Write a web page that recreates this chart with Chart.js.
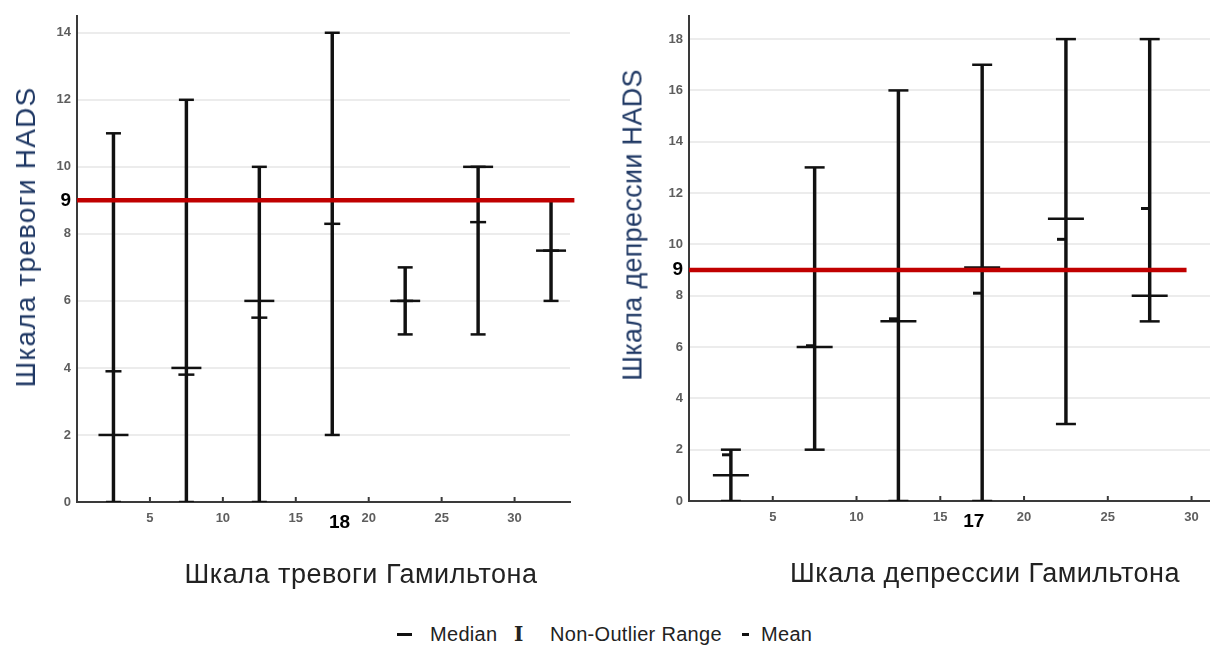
<!DOCTYPE html>
<html>
<head>
<meta charset="utf-8">
<script src="https://cdn.jsdelivr.net/npm/chart.js@4.4.1/dist/chart.umd.min.js"></script>
<style>
  body { margin: 0; background: #fff; width: 1210px; height: 646px; overflow: hidden; position: relative;
         font-family: 'Liberation Sans', Arial, sans-serif; }
  canvas { position: absolute; top: 0; }
  #anx { left: 0; }
  #dep { left: 605px; }
  .xt { position: absolute; font-size: 27px; letter-spacing: 0.5px; color: #222; white-space: nowrap; transform: translate(-50%, -50%); }
  .yt { position: absolute; color: #1f3864; white-space: nowrap; transform: translate(-50%, -50%) rotate(-90deg); }
  .lg { position: absolute; top: 634px; font-size: 20px; letter-spacing: 0.3px; color: #222; white-space: nowrap; transform: translateY(-50%); }
  .lg b { font-family: 'DejaVu Serif', serif; }
  .dash { position: absolute; top: 633px; height: 3px; background: #111; }
</style>
</head>
<body>
<canvas id="anx" width="605" height="610"></canvas>
<canvas id="dep" width="605" height="610"></canvas>
<div class="yt" style="left:26px; top:237px; font-size:28px; letter-spacing:1.2px;">Шкала тревоги HADS</div>
<div class="xt" style="left:361px; top:574px;">Шкала тревоги Гамильтона</div>
<div class="yt" style="left:633px; top:225px; font-size:27px; letter-spacing:0.3px;">Шкала депрессии HADS</div>
<div class="xt" style="left:985px; top:573px;">Шкала депрессии Гамильтона</div>
<div class="dash" style="left:397px; width:15px;"></div>
<div class="lg" style="left:430px;">Median</div>
<div class="lg" style="left:514px;"><b>I</b></div>
<div class="lg" style="left:550px;">Non-Outlier Range</div>
<div class="dash" style="left:742px; width:7px;"></div>
<div class="lg" style="left:761px;">Mean</div>
<script>
// anxiety: HADS score by Hamilton anxiety score group (group centres)
const anxX = [2.5, 7.5, 12.5, 17.5, 22.5, 27.5, 32.5];
const anxMin = [0, 0, 0, 2, 5, 5, 6];
const anxMax = [11, 12, 10, 14, 7, 10, 9];
const anxMedian = [2, 4, 6, 9, 6, 10, 7.5];
const anxMean = [3.9, 3.8, 5.5, 8.3, 6, 8.35, 7.5];

// depression: HADS score by Hamilton depression score group
const depX = [2.5, 7.5, 12.5, 17.5, 22.5, 27.5];
const depMin = [0, 2, 0, 0, 3, 7];
const depMax = [2, 13, 16, 17, 18, 18];
const depMedian = [1, 6, 7, 9.1, 11, 8];
const depMean = [1.8, 6.05, 7.1, 8.1, 10.2, 11.4];

// HADS cut-off line and the highlighted Hamilton values
const cutoff = 9;
const anxYTicks = [0, 2, 4, 6, 8, 9, 10, 12, 14];
const depYTicks = [0, 2, 4, 6, 8, 9, 10, 12, 14, 16, 18];
const anxXTicks = [5, 10, 15, 18, 20, 25, 30];
const depXTicks = [5, 10, 15, 17, 20, 25, 30];
const anxMark = 18;
const depMark = 17;

// mean marker on the right chart sits only on the left side of the bar
function halfDash(len, lw) {
    const c = document.createElement('canvas');
    c.width = len * 2;
    c.height = Math.ceil(lw) + 2;
    const g = c.getContext('2d');
    g.fillStyle = '#111';
    g.fillRect(0, 1, len, lw);
    return c;
}

// small tick marks pointing up into the plot
const innerTicks = {
    id: 'innerTicks',
    afterDraw(chart) {
        const x = chart.scales.x;
        const ctx = chart.ctx;
        const bottom = chart.chartArea.bottom;
        ctx.save();
        ctx.strokeStyle = '#3a3a3a';
        ctx.lineWidth = 2;
        x.ticks.forEach(t => {
            if (t.value % 5 !== 0) return;
            const px = x.getPixelForValue(t.value);
            ctx.beginPath();
            ctx.moveTo(px, bottom);
            ctx.lineTo(px, bottom - 5);
            ctx.stroke();
        });
        ctx.restore();
    }
};

function makeChart(id, o) {
    const caps = [];
    o.x.forEach((x, i) => {
        caps.push({x: x, y: o.min[i]});
        caps.push({x: x, y: o.max[i]});
    });
    const tickFont = (mark, big) => ctx => (ctx.tick && ctx.tick.value === mark)
        ? {family: 'Liberation Sans', size: big, weight: 'bold'}
        : {family: 'Liberation Sans', size: 13, weight: 'bold'};
    const tickColor = mark => ctx => (ctx.tick && ctx.tick.value === mark) ? '#000' : '#5e5e5e';

    return new Chart(document.getElementById(id), {
        type: 'scatter',
        data: {
            datasets: [
                {
                    type: 'line',
                    data: [{x: 0, y: cutoff}, {x: o.lineEnd, y: cutoff}],
                    borderColor: '#c00000',
                    borderWidth: 4.5,
                    pointRadius: 0,
                    clip: false
                },
                {
                    type: 'bar',
                    data: o.x.map((x, i) => ({x: x, y: [o.min[i], o.max[i]]})),
                    backgroundColor: '#111',
                    barThickness: 2.8
                },
                {
                    data: caps,
                    pointStyle: 'line',
                    pointRadius: o.cap,
                    pointBorderWidth: 2.5,
                    pointBorderColor: '#111'
                },
                {
                    data: o.x.map((x, i) => ({x: x, y: o.median[i]})),
                    pointStyle: 'line',
                    pointRadius: o.med,
                    pointBorderWidth: 2.5,
                    pointBorderColor: '#111'
                },
                {
                    data: o.x.map((x, i) => ({x: x, y: o.mean[i]})),
                    pointStyle: o.meanStyle,
                    pointRadius: o.meanR,
                    pointBorderWidth: 2.5,
                    pointBorderColor: '#111'
                }
            ]
        },
        options: {
            responsive: false,
            animation: false,
            events: [],
            layout: {autoPadding: false, padding: {top: o.padTop, right: o.padRight, left: 0, bottom: 0}},
            plugins: {legend: {display: false}, tooltip: {enabled: false}},
            scales: {
                x: {
                    type: 'linear',
                    min: 0,
                    max: o.xMax,
                    offset: false,
                    afterFit: s => {
                        s.height = o.xHeight;
                        s.paddingLeft = 0;
                        s.paddingRight = 0;
                    },
                    afterBuildTicks: s => { s.ticks = o.xTicks.map(v => ({value: v})); },
                    grid: {display: false, drawTicks: false},
                    border: {color: '#3a3a3a', width: 2},
                    ticks: {autoSkip: false, maxRotation: 0, padding: 9,
                            font: tickFont(o.xMark, 19), color: tickColor(o.xMark)}
                },
                y: {
                    min: 0,
                    max: o.yMax,
                    afterFit: s => { s.width = o.yWidth; },
                    afterBuildTicks: s => { s.ticks = o.yTicks.map(v => ({value: v})); },
                    grid: {
                        drawTicks: false,
                        lineWidth: 2,
                        color: ctx => (ctx.tick && (ctx.tick.value === cutoff || ctx.tick.value === 0)) ? 'rgba(0,0,0,0)' : '#ececec'
                    },
                    border: {color: '#3a3a3a', width: 2},
                    ticks: {autoSkip: false, padding: 6,
                            font: tickFont(cutoff, 19), color: tickColor(cutoff)}
                }
            }
        },
        plugins: [innerTicks]
    });
}

makeChart('anx', {
    x: anxX, min: anxMin, max: anxMax, median: anxMedian, mean: anxMean,
    xTicks: anxXTicks, yTicks: anxYTicks, xMark: anxMark,
    xMax: 33.8, yMax: 14.5, lineEnd: 34.1,
    cap: 7.5, med: 15, meanR: 8, meanStyle: 'line',
    padTop: 16, padRight: 35, yWidth: 77, xHeight: 108
});

makeChart('dep', {
    x: depX, min: depMin, max: depMax, median: depMedian, mean: depMean,
    xTicks: depXTicks, yTicks: depYTicks, xMark: depMark,
    xMax: 31.1, yMax: 18.9, lineEnd: 29.7,
    cap: 10, med: 18, meanR: 10, meanStyle: halfDash(9, 3),
    padTop: 16, padRight: 0, yWidth: 84, xHeight: 109
});
</script>
</body>
</html>
